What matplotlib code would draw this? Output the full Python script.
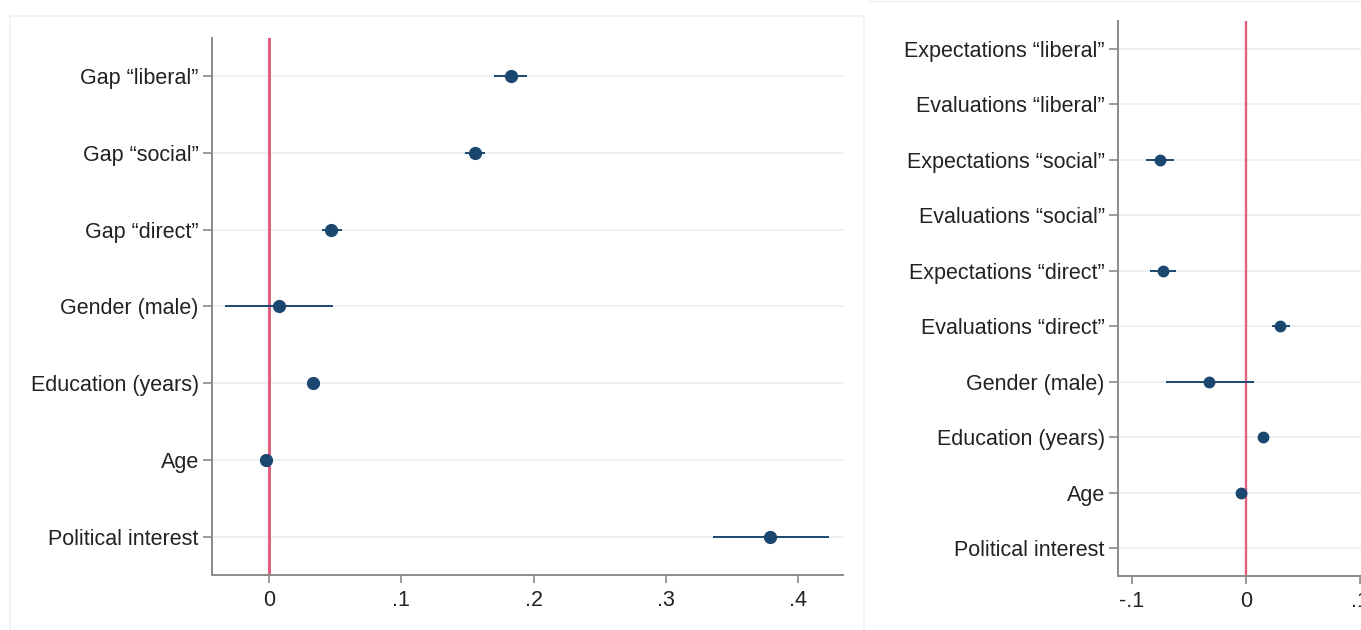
import numpy as np
import matplotlib
matplotlib.use("Agg")
import matplotlib.pyplot as plt
from matplotlib.patches import Rectangle
from matplotlib.lines import Line2D

# ---------------- data ----------------
left_labels = ["Gap \u201cliberal\u201d", "Gap \u201csocial\u201d", "Gap \u201cdirect\u201d",
               "Gender (male)", "Education (years)", "Age", "Political interest"]
left_coef = [0.183, 0.156, 0.047, 0.0076, 0.033, -0.002, 0.379]
left_lo   = [0.170, 0.148, 0.040, -0.033, 0.029, -0.003, 0.336]
left_hi   = [0.195, 0.163, 0.055, 0.048, 0.038, -0.001, 0.423]
left_xticks = [0, 0.1, 0.2, 0.3, 0.4]
left_xticklabels = ["0", ".1", ".2", ".3", ".4"]

right_labels = ["Expectations \u201cliberal\u201d", "Evaluations \u201cliberal\u201d",
                "Expectations \u201csocial\u201d", "Evaluations \u201csocial\u201d",
                "Expectations \u201cdirect\u201d", "Evaluations \u201cdirect\u201d",
                "Gender (male)", "Education (years)", "Age", "Political interest"]
right_coef = [np.nan, np.nan, -0.0754, np.nan, -0.0728, 0.030, -0.0325, 0.015, -0.0044, np.nan]
right_lo   = [np.nan, np.nan, -0.0877, np.nan, -0.084, 0.023, -0.070, 0.012, -0.006, np.nan]
right_hi   = [np.nan, np.nan, -0.0632, np.nan, -0.061, 0.039, 0.007, 0.018, -0.003, np.nan]
right_xticks = [-0.1, 0, 0.1]
right_xticklabels = ["-.1", "0", ".1"]

# ---------------- style ----------------
plt.rcParams['font.family'] = ['Liberation Sans', 'DejaVu Sans']
NAVY = "#1a476f"
RED = "#e0607f"
GRID = "#eaf1f2"
SPINE = "#8a8a8a"
TXT = "#222222"
BORDER = "#edf2f3"

W, H = 1361, 630
fig = plt.figure(figsize=(W / 100, H / 100), dpi=100)
fig.patch.set_facecolor("white")

def fx(px):
    return px / W

def fy(py):
    return 1 - py / H

# panel borders
fig.add_artist(Rectangle((fx(10), fy(700)), fx(864) - fx(10), fy(16) - fy(700),
                         transform=fig.transFigure, fill=False,
                         edgecolor=BORDER, linewidth=1.2))
fig.add_artist(Line2D([fx(867), 1], [fy(1), fy(1)], transform=fig.transFigure,
                      color=BORDER, linewidth=1.0))


def draw(ax, labels, coef, lo, hi, xticks, xticklabels, xlim, ms, zlw, lw):
    n = len(labels)
    pos = np.arange(1, n + 1)
    ax.set_ylim(n + 0.5, 0.5)
    ax.set_xlim(*xlim)
    for p in pos:
        ax.axhline(p, color=GRID, linewidth=1.3, zorder=0)
    ax.axvline(0, color=RED, linewidth=zlw, zorder=1)
    coef = np.asarray(coef, float)
    lo = np.asarray(lo, float)
    hi = np.asarray(hi, float)
    ax.hlines(pos, lo, hi, color=NAVY, linewidth=lw, zorder=2)
    ax.plot(coef, pos, 'o', color=NAVY, markersize=ms, zorder=3, linestyle='none')
    ax.set_yticks(pos)
    ax.set_yticklabels(labels)
    ax.set_xticks(xticks)
    ax.set_xticklabels(xticklabels)
    for s in ["top", "right"]:
        ax.spines[s].set_visible(False)
    for s in ["left", "bottom"]:
        ax.spines[s].set_color(SPINE)
        ax.spines[s].set_linewidth(1.4)
    ax.tick_params(axis='y', length=6.5, width=1.2, color=SPINE, pad=3,
                   labelsize=15.5, labelcolor=TXT)
    ax.tick_params(axis='x', length=5.5, width=1.2, color=SPINE, pad=5,
                   labelsize=15.5, labelcolor=TXT)
    ax.set_facecolor("none")


# left axes: x 212..843 px, y 38..575 px
axL = fig.add_axes([fx(212), fy(575), fx(843) - fx(212), fy(38) - fy(575)])
draw(axL, left_labels, left_coef, left_lo, left_hi, left_xticks, left_xticklabels,
     (-0.0431, 0.4339), ms=8.5, zlw=2.2, lw=1.4)

# right axes: x 1118..1375 px, y 21..576 px
axR = fig.add_axes([fx(1118), fy(576), fx(1375) - fx(1118), fy(21) - fy(576)])
draw(axR, right_labels, right_coef, right_lo, right_hi, right_xticks, right_xticklabels,
     (-0.1123, 0.1132), ms=7.5, zlw=1.7, lw=1.4)

fig.savefig("out.png", dpi=100)
